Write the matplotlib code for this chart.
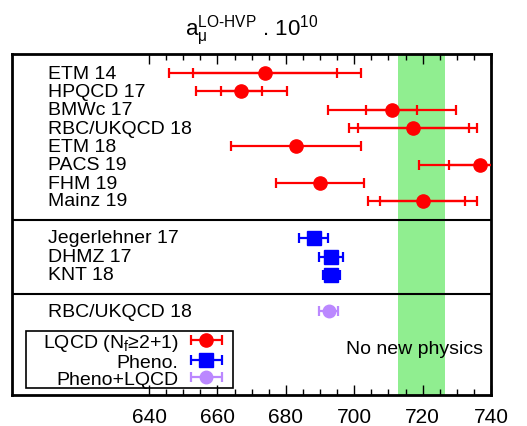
import matplotlib
matplotlib.use("Agg")
import matplotlib.pyplot as plt
from matplotlib.patches import Rectangle
from matplotlib.ticker import FixedLocator
from matplotlib.legend_handler import HandlerErrorbar
from matplotlib.container import ErrorbarContainer
import numpy as np

plt.rcParams['font.family'] = ['Liberation Sans', 'DejaVu Sans']
plt.rcParams['mathtext.fontset'] = 'custom'
plt.rcParams['mathtext.rm'] = 'Liberation Sans'
plt.rcParams['mathtext.it'] = 'Liberation Sans:italic'

# ---- data ----
lqcd_names = ['ETM 14', 'HPQCD 17', 'BMWc 17', 'RBC/UKQCD 18', 'ETM 18', 'PACS 19', 'FHM 19', 'Mainz 19']
lqcd_val = [673.9, 667.0, 711.0, 717.3, 683.0, 736.8, 690.0, 720.0]
lqcd_stat = [21.0, 6.0, 7.5, 16.3, np.nan, 9.0, np.nan, 12.4]
lqcd_tot = [28.0, 13.4, 18.8, 18.7, 19.0, 18.0, 13.0, 15.9]

pheno_names = ['Jegerlehner 17', 'DHMZ 17', 'KNT 18']
pheno_val = [688.1, 693.2, 693.3]
pheno_err = [4.2, 3.4, 2.5]

comb_names = ['RBC/UKQCD 18']
comb_val = [692.5]
comb_err = [2.8]

band_lo, band_hi = 712.7, 726.6
xticks = [640, 660, 680, 700, 720, 740]

# ---- figure ----
W, H = 527, 427
fig = plt.figure(figsize=(W / 100, H / 100), dpi=100)
L, R, T, B = 12.3, 491, 55, 396
ax = fig.add_axes([L / W, 1 - B / H, (R - L) / W, (B - T) / H])

ax.set_xlim(600, 740)
ax.set_ylim(18.63, 0)

ax.axvspan(band_lo, band_hi, color='#90ee90', zorder=0, lw=0)

y_lqcd = np.arange(1, len(lqcd_names) + 1) + np.array([0.04, 0.04, 0.04, 0.06, 0.04, 0.06, 0.05, 0.03])
y_pheno = np.arange(10, 10 + len(pheno_names)) + np.array([0.03, 0.07, 0.07])
y_comb = np.array([14.05])

red, blue, purple = '#ff0000', '#0000ff', '#bb88ff'
eb = dict(elinewidth=1.6, capsize=3.5, capthick=1.6)

ax.errorbar(lqcd_val, y_lqcd, xerr=lqcd_stat, fmt='none', ecolor=red, zorder=3, **eb)
h1 = ax.errorbar(lqcd_val, y_lqcd, xerr=lqcd_tot, fmt='o', color=red, ms=9.5, zorder=4, **eb)
h2 = ax.errorbar(pheno_val, y_pheno, xerr=pheno_err, fmt='s', color=blue, ms=9.5, zorder=4, **eb)
h3 = ax.errorbar(comb_val, y_comb, xerr=comb_err, fmt='o', color=purple, ms=9, zorder=4, **eb)

# labels
xlab = 610.5
for names, ys in ((lqcd_names, y_lqcd), (pheno_names, y_pheno), (comb_names, y_comb)):
    for n, y in zip(names, ys):
        ax.text(xlab, y, n, fontsize=14, va='center', ha='left')

# separators
for ysep in (9.07, 13.1):
    ax.axhline(ysep, color='black', lw=1.5, zorder=5)

ax.text(737.6, 16.08, 'No new physics', fontsize=14, ha='right', va='center')

# axes styling
for s in ax.spines.values():
    s.set_linewidth(2)
ax.set_yticks([])
ax.xaxis.set_major_locator(FixedLocator(xticks))
ax.xaxis.set_minor_locator(FixedLocator([v for v in range(640, 741, 5) if v % 20]))
ax.tick_params(axis='x', which='both', direction='in', top=True, bottom=True,
               labelsize=15, width=1, pad=9)
ax.tick_params(axis='x', which='major', length=7)
ax.tick_params(axis='x', which='minor', length=4)

# title
fig.text((L + R) / 2 / W, 1 - 35 / H,
         r'$\mathrm{a}_{\mathrm{\mu}}^{\mathrm{LO\text{-}HVP}}$ . 10$^{10}$',
         fontsize=16, ha='center', va='baseline')

# legend
leg = ax.legend([h1, h2, h3], [r'LQCD (N$_\mathrm{f}$≥2+1)', 'Pheno.', 'Pheno+LQCD'],
                markerfirst=False, frameon=False, fontsize=14,
                handler_map={ErrorbarContainer: HandlerErrorbar(xerr_size=0.8)},
                loc='upper right', bbox_to_anchor=(223 / W, 1 - 333 / H),
                bbox_transform=fig.transFigure, borderaxespad=0, borderpad=0,
                handlelength=1.7, handletextpad=0.6, labelspacing=0.0)
leg.set_zorder(6)
fig.patches.append(Rectangle((25.7 / W, 1 - 389 / H), (233 - 25.7) / W, (389 - 332.3) / H,
                             transform=fig.transFigure, fill=False, ec='black', lw=1.2,
                             zorder=7))

fig.savefig('out.png', dpi=100)
